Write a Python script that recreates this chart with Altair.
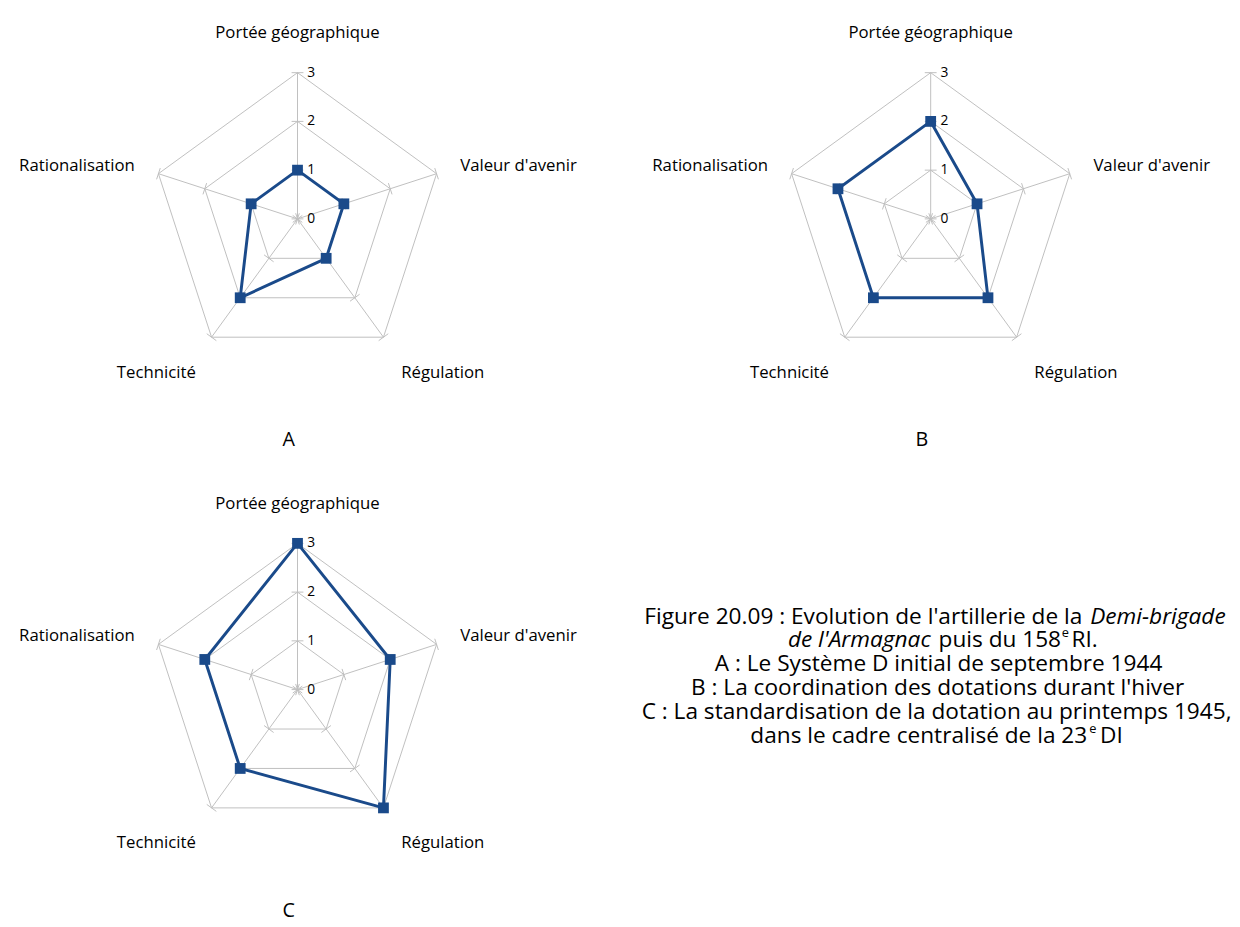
import altair as alt
import pandas as pd

# ---------------- data ----------------
categories = ["Portée géographique", "Valeur d'avenir", "Régulation", "Technicité", "Rationalisation"]
values_A = [1, 1, 1, 2, 1]
values_B = [2, 1, 2, 2, 2]
values_C = [3, 2, 3, 2, 2]
grid_levels = [1, 2, 3]
tick_levels = [0, 1, 2, 3]
tick_labels = ["0", "1", "2", "3"]
panel_letters = ["A", "B", "C"]

# ---------------- style / layout ----------------
UNIT = 49.5          # px per unit of value
N = len(categories)
MAXV = max(grid_levels)
FONT = "Open Sans"
GRID = "#BFBFBF"
SERIES = "#1A4A8A"
LABEL_SIZE = 17
CAP_SIZE = 23
W1, W2 = 643, 580
H1, H2 = 478, 445
CX, CY = 294, 207
TICK_HALF = 6
LETTER_DY = 225

label_layout = [  # dx, dy, align relative to outer vertex
    (0, -40, "center"),
    (24, -8, "left"),
    (18, 36, "left"),
    (-16, 36, "right"),
    (-24, -8, "right"),
]

ANG = "datum.idx * 2 * PI / %d" % N


def radar(values, letter, W, H):
    xs = alt.Scale(domain=[-CX, W - CX], nice=False, zero=False)
    ys = alt.Scale(domain=[CY - H, CY], nice=False, zero=False)
    X = alt.X("x:Q", scale=xs, axis=None)
    Y = alt.Y("y:Q", scale=ys, axis=None)

    grid_df = pd.DataFrame(
        [{"level": l, "k": k, "idx": k % N} for l in grid_levels for k in range(N + 1)]
    )
    grid = alt.Chart(grid_df).transform_calculate(
        x=f"datum.level * {UNIT} * sin({ANG})",
        y=f"datum.level * {UNIT} * cos({ANG})",
    ).mark_line(color=GRID, strokeWidth=1).encode(
        x=X, y=Y, detail="level:N", order="k:Q"
    )

    spoke_df = pd.DataFrame({"idx": list(range(N))})
    spokes = alt.Chart(spoke_df).transform_calculate(
        x="0", y="0",
        x2=f"{MAXV} * {UNIT} * sin({ANG})",
        y2=f"{MAXV} * {UNIT} * cos({ANG})",
    ).mark_rule(color=GRID, strokeWidth=1).encode(
        x=X, y=Y, x2="x2:Q", y2="y2:Q"
    )

    tick_df = pd.DataFrame([{"level": l, "idx": i} for l in tick_levels for i in range(N)])
    ticks = alt.Chart(tick_df).transform_calculate(
        px=f"datum.level * {UNIT} * sin({ANG})",
        py=f"datum.level * {UNIT} * cos({ANG})",
    ).transform_calculate(
        x=f"datum.px - {TICK_HALF} * cos({ANG})",
        y=f"datum.py + {TICK_HALF} * sin({ANG})",
        x2=f"datum.px + {TICK_HALF} * cos({ANG})",
        y2=f"datum.py - {TICK_HALF} * sin({ANG})",
    ).mark_rule(color=GRID, strokeWidth=1).encode(
        x=X, y=Y, x2="x2:Q", y2="y2:Q"
    )

    tl_df = pd.DataFrame({"level": tick_levels, "label": tick_labels})
    tick_text = alt.Chart(tl_df).transform_calculate(
        x="0", y=f"datum.level * {UNIT}"
    ).mark_text(align="left", baseline="middle", dx=10, font=FONT, fontSize=14, color="#000000").encode(
        x=X, y=Y, text="label:N"
    )

    s_df = pd.DataFrame(
        [{"k": k, "idx": k % N, "value": values[k % N]} for k in range(N + 1)]
    )
    s_base = alt.Chart(s_df).transform_calculate(
        x=f"datum.value * {UNIT} * sin({ANG})",
        y=f"datum.value * {UNIT} * cos({ANG})",
    )
    line = s_base.mark_line(color=SERIES, strokeWidth=3).encode(x=X, y=Y, order="k:Q")
    pts = s_base.transform_filter(f"datum.k < {N}").mark_square(
        color=SERIES, size=120, opacity=1
    ).encode(x=X, y=Y)

    cat_layers = []
    for i, (cat, (dx, dy, al)) in enumerate(zip(categories, label_layout)):
        cdf = pd.DataFrame({"idx": [i], "label": [cat]})
        cat_layers.append(
            alt.Chart(cdf).transform_calculate(
                x=f"{MAXV} * {UNIT} * sin({ANG})",
                y=f"{MAXV} * {UNIT} * cos({ANG})",
            ).mark_text(align=al, baseline="middle", dx=dx, dy=dy, font=FONT,
                        fontSize=LABEL_SIZE, color="#000000").encode(x=X, y=Y, text="label:N")
        )

    let_df = pd.DataFrame({"label": [letter]})
    let_mark = alt.Chart(let_df).transform_calculate(x="0", y="0").mark_text(
        align="center", baseline="middle", dx=-9, dy=LETTER_DY, font=FONT, fontSize=20, color="#000000"
    ).encode(x=X, y=Y, text="label:N")

    return alt.layer(grid, spokes, ticks, line, pts, tick_text, *cat_layers, let_mark).properties(
        width=W, height=H
    )


# ---------------- caption panel ----------------
cap_segments = [
    # text, x, y, align, style, size, dy
    ("Figure 20.09 : Evolution de l'artillerie de la", 432, 133, "right", "normal", CAP_SIZE, 0),
    ("Demi-brigade", 440, 133, "left", "italic", CAP_SIZE, 0),
    ("de l'Armagnac", 133, 157, "left", "italic", CAP_SIZE, 0),
    ("puis du 158", 286, 157, "left", "normal", CAP_SIZE, 0),
    ("e", 411, 157, "left", "normal", 13, -7),
    ("RI.", 421, 157, "left", "normal", CAP_SIZE, 0),
    ("A : Le Système D initial de septembre 1944", 286, 181, "center", "normal", CAP_SIZE, 0),
    ("B : La coordination des dotations durant l'hiver", 285, 206, "center", "normal", CAP_SIZE, 0),
    ("C : La standardisation de la dotation au printemps 1945,", 284, 230, "center", "normal", CAP_SIZE, 0),
    ("dans le cadre centralisé de la 23", 437, 254, "right", "normal", CAP_SIZE, 0),
    ("e", 439, 254, "left", "normal", 13, -7),
    ("DI", 450, 254, "left", "normal", CAP_SIZE, 0),
]
one = pd.DataFrame({"z": [0]})
cap_layers = []
for txt, x, y, al, st, sz, dy in cap_segments:
    cap_layers.append(
        alt.Chart(one).mark_text(
            text=txt, align=al, baseline="middle", font=FONT, fontSize=sz,
            fontStyle=st, dy=dy, color="#000000"
        ).encode(x=alt.value(x), y=alt.value(y))
    )
caption = alt.layer(*cap_layers).properties(width=W2, height=H2)

row1 = alt.hconcat(radar(values_A, panel_letters[0], W1, H1),
                   radar(values_B, panel_letters[1], W2, H1), spacing=0)
row2 = alt.hconcat(radar(values_C, panel_letters[2], W1, H2), caption, spacing=0)
chart = alt.vconcat(row1, row2, spacing=0).properties(padding=0).configure_view(stroke=None)

chart.save("out.html", embed_options={"renderer": "svg", "actions": False})
